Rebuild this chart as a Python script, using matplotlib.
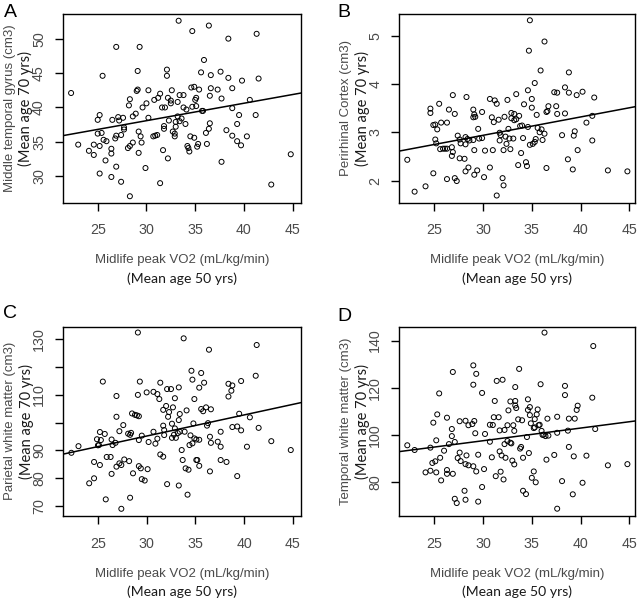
import matplotlib
matplotlib.use("Agg")
import matplotlib.pyplot as plt
import numpy as np

# ---------------- data ----------------
a_x = [22.27,23.0,24.1,24.6,24.6,25.0,25.0,25.2,25.2,25.2,25.4,25.5,25.6,25.8,25.9,26.4,26.4,26.4,26.5,26.8,
       26.9,26.9,26.9,27.1,27.2,27.4,27.4,27.6,27.7,27.7,28.1,28.2,28.3,28.3,28.3,28.6,28.6,28.9,29.0,29.1,
       29.1,29.2,29.2,29.3,29.4,29.5,29.6,29.9,30.0,30.2,30.2,30.7,30.8,30.9,31.1,31.2,31.4,31.4,31.6,31.7,
       31.8,31.8,31.9,32.1,32.1,32.2,32.2,32.3,32.5,32.5,32.6,32.7,32.9,32.9,33.0,33.0,33.2,33.2,33.3,33.4,
       33.4,33.6,33.8,33.8,34.0,34.1,34.2,34.3,34.4,34.5,34.6,34.7,34.7,34.9,34.9,35.0,35.1,35.1,35.2,35.3,
       35.4,35.6,35.7,35.8,35.9,36.1,36.2,36.4,36.4,36.5,36.5,36.6,36.6,37.3,37.6,37.7,37.7,38.2,38.4,38.4,
       38.8,38.8,38.8,39.3,39.3,39.5,39.7,39.8,40.3,40.6,41.2,41.3,41.5,42.8,44.8]
a_y = [42.1,34.6,33.7,34.6,33.1,36.2,38.2,38.9,30.4,34.4,36.3,44.6,35.3,32.3,35.1,29.9,33.3,34.0,38.2,35.5,
       31.4,48.8,35.9,38.6,38.1,29.2,36.0,38.5,36.8,37.1,34.1,40.3,34.4,41.2,27.1,34.9,38.7,39.1,42.4,42.6,
       45.3,36.5,33.4,48.8,35.8,34.9,40.0,31.2,40.6,38.5,42.5,35.8,41.1,35.9,36.0,41.4,29.0,42.0,40.0,33.8,
       37.3,36.9,40.0,45.5,44.6,32.6,41.4,38.1,40.6,41.0,42.5,36.5,36.2,35.8,37.2,37.9,38.7,40.8,52.6,41.8,
       38.0,38.4,41.8,40.0,37.6,39.7,34.4,34.1,33.6,35.8,42.9,40.1,51.1,43.0,35.6,41.1,41.4,40.2,34.3,34.7,
       42.6,45.1,39.5,39.5,46.9,36.3,34.7,51.9,36.9,37.7,41.7,42.8,44.7,42.6,45.2,32.1,41.3,36.7,50.0,44.3,
       35.9,42.8,39.9,37.6,35.1,38.9,34.5,43.9,35.8,41.1,38.9,50.7,44.2,28.8,33.2]

b_x = [22.23,22.98,24.1,24.6,24.6,24.9,24.9,25.1,25.1,25.2,25.3,25.5,25.6,25.7,25.9,26.1,26.3,26.3,26.3,26.5,
       26.8,26.8,26.9,26.9,27.1,27.1,27.3,27.4,27.6,27.6,27.7,28.1,28.2,28.2,28.2,28.3,28.4,28.5,28.6,29.0,
       29.0,29.0,29.1,29.1,29.2,29.1,29.4,29.5,29.6,29.9,29.9,30.1,30.2,30.7,30.7,30.9,31.0,31.1,31.2,31.4,
       31.4,31.6,31.7,31.7,31.8,32.0,32.1,32.1,32.2,32.3,32.4,32.5,32.6,32.7,32.8,32.9,32.9,33.1,33.2,33.2,
       33.4,33.4,33.6,33.7,33.8,33.9,34.0,34.1,34.2,34.4,34.5,34.6,34.6,34.7,34.8,34.8,35.0,35.0,35.1,35.3,
       35.3,35.4,35.5,35.6,35.8,35.9,36.0,36.1,36.3,36.3,36.5,36.5,36.6,36.7,37.3,37.5,37.6,37.6,38.1,38.4,
       38.4,38.7,38.8,38.8,39.2,39.3,39.4,39.6,39.7,40.2,40.6,41.2,41.2,41.4,42.8,44.8]
b_y = [2.43,1.77,1.88,3.49,3.40,2.15,3.15,3.16,2.85,2.77,3.06,3.59,2.65,3.20,2.66,2.66,3.20,2.66,2.03,3.47,
       2.51,2.69,3.77,2.59,3.38,2.05,1.99,2.93,2.85,2.46,2.77,2.45,2.90,2.75,2.19,3.73,2.86,2.27,2.83,2.84,
       3.47,3.31,3.37,2.63,3.32,2.12,2.21,3.07,2.87,2.88,3.42,2.07,2.62,3.69,2.27,3.31,2.63,3.21,3.66,1.69,
       3.59,3.26,2.83,2.99,2.94,2.05,1.90,2.63,3.32,2.91,2.76,3.67,3.07,2.87,2.65,3.40,3.29,2.87,3.25,3.38,
       3.79,3.27,2.32,3.34,3.13,2.57,3.14,2.88,3.58,2.38,2.30,3.87,3.11,4.69,2.74,5.32,3.69,3.51,2.76,2.80,
       4.02,2.86,3.36,3.09,3.00,4.28,3.06,2.84,2.97,4.88,3.42,2.26,3.44,3.54,3.83,3.54,3.82,3.38,2.94,3.93,
       3.39,2.44,4.24,3.82,2.23,2.93,3.02,3.77,2.63,3.84,3.20,2.83,3.34,3.72,2.21,2.19]

c_x = [22.27,23.0,24.1,24.6,24.6,24.9,25.0,25.1,25.2,25.2,25.3,25.5,25.7,25.8,25.9,26.3,26.4,26.4,26.5,26.8,
       26.9,26.9,26.9,27.2,27.2,27.4,27.4,27.6,27.7,28.1,28.2,28.3,28.3,28.4,28.5,28.6,28.8,29.0,29.1,29.1,
       29.2,29.2,29.2,29.3,29.4,29.5,29.5,29.8,30.0,30.1,30.2,30.7,30.7,30.9,31.1,31.1,31.3,31.4,31.4,31.7,
       31.7,31.7,31.8,31.8,32.0,32.1,32.1,32.2,32.3,32.5,32.6,32.6,32.7,32.8,32.9,32.9,33.0,33.2,33.3,33.3,
       33.4,33.3,33.4,33.6,33.8,33.7,33.9,34.0,34.1,34.2,34.3,34.4,34.5,34.6,34.7,34.7,34.8,34.9,34.9,35.1,
       35.1,35.2,35.4,35.4,35.4,35.6,35.6,35.8,35.9,36.1,36.2,36.3,36.4,36.5,36.5,36.6,36.6,37.3,37.6,37.6,
       37.6,38.2,38.4,38.4,38.7,38.8,38.8,39.3,39.3,39.5,39.7,39.7,40.3,40.6,41.2,41.3,41.5,42.8,44.8]
c_y = [89.1,91.5,78.1,79.9,85.8,94.0,91.8,91.9,96.6,84.7,93.7,114.8,95.9,72.3,87.6,87.6,81.5,93.9,91.9,92.7,
       102.1,109.6,84.1,85.3,96.9,84.7,68.9,99.1,86.7,96.0,86.1,95.6,72.9,96.3,103.3,81.7,102.8,102.6,110.0,132.5,
       102.3,84.3,93.7,114.8,83.5,95.3,79.6,79.1,110.9,83.2,93.0,96.7,111.1,92.4,94.2,110.3,108.5,88.5,114.4,104.6,
       98.9,87.7,95.5,97.3,106.0,112.1,77.8,102.1,103.8,112.1,99.6,94.5,105.5,95.6,108.8,97.9,94.5,96.2,77.3,112.7,
       103.1,100.9,96.7,90.1,130.4,86.5,96.7,83.5,104.4,74.0,83.0,91.9,95.4,118.7,115.5,92.5,99.7,108.5,94.3,86.5,
       93.9,86.5,93.8,112.6,84.4,117.9,104.9,104.1,114.4,105.5,98.9,99.8,126.3,94.9,82.4,104.8,92.7,93.1,96.7,91.3,
       86.5,85.8,109.4,114.0,111.5,113.4,98.4,80.7,98.6,103.2,115.0,97.2,91.3,101.9,116.9,128.0,98.1,93.3,90.1]

d_x = [22.23,22.98,24.1,24.6,24.6,24.8,24.9,25.1,25.2,25.2,25.3,25.5,25.6,25.7,26.0,26.3,26.3,26.3,26.5,26.8,
       26.8,26.9,26.9,27.1,27.1,27.3,27.4,27.6,27.6,27.7,28.1,28.2,28.2,28.3,28.2,28.5,28.5,28.9,29.0,29.0,
       29.0,29.1,29.2,29.3,29.3,29.5,29.5,29.9,29.9,30.1,30.2,30.7,30.7,30.9,31.0,31.1,31.2,31.3,31.4,31.6,
       31.7,31.7,31.8,31.9,32.0,32.1,32.2,32.2,32.3,32.5,32.5,32.6,32.8,32.8,32.9,33.0,33.1,33.2,33.2,33.3,
       33.3,33.3,33.4,33.6,33.7,33.8,33.9,34.0,34.1,34.1,34.4,34.5,34.6,34.6,34.7,34.8,34.8,34.9,35.0,35.2,
       35.2,35.3,35.3,35.4,35.5,35.6,35.7,35.8,35.9,36.0,36.1,36.2,36.3,36.4,36.5,36.6,36.7,37.3,37.6,37.6,
       37.6,38.1,38.4,38.4,38.7,38.8,38.8,39.2,39.3,39.4,39.6,39.7,40.2,40.6,41.2,41.3,41.5,42.8,44.8]
d_y = [95.6,93.6,84.1,84.8,94.6,88.1,105.2,88.8,84.1,97.7,108.7,117.6,90.3,80.7,93.3,85.1,83.5,107.3,96.1,99.5,
       102.5,83.5,126.7,72.9,97.0,71.1,90.2,92.5,105.8,88.9,76.3,87.6,72.5,91.3,106.0,104.1,87.1,104.6,129.5,86.7,
       121.3,105.9,100.7,125.9,84.5,71.7,91.6,117.8,77.9,85.5,100.4,104.3,97.1,90.5,104.2,107.5,114.4,82.5,122.9,107.5,
       93.0,101.9,84.4,91.3,123.4,81.1,102.1,96.1,90.3,104.1,97.4,110.4,96.7,114.2,96.4,89.1,104.1,87.5,101.7,120.3,
       112.5,114.4,111.4,106.6,128.0,94.2,94.9,106.2,90.3,76.3,74.9,99.1,115.1,110.6,92.3,108.4,111.8,104.9,81.8,102.9,
       84.5,103.2,106.7,79.9,108.7,110.8,104.1,104.3,121.5,101.7,100.0,100.1,143.4,99.5,89.5,106.9,99.7,91.5,107.7,68.7,
       100.9,80.4,120.8,116.9,101.8,106.9,94.9,74.8,90.9,106.9,110.6,112.4,79.7,91.2,115.8,137.7,102.5,87.1,87.6]

# fitted regression lines (intercept, slope)
fit_a = (30.47, 0.2536)
fit_b = (1.797, 0.0380)
fit_c = (72.32, 0.761)
fit_d = (81.42, 0.537)

panel_letters = ["A", "B", "C", "D"]
y_titles = ["Middle temporal gyrus (cm3)", "Perirhinal Cortex (cm3)",
            "Parietal white matter (cm3)", "Temporal white matter (cm3)"]
y_sub = "(Mean age 70 yrs)"
x_title = "Midlife peak VO2 (mL/kg/min)"
x_sub = "(Mean age 50 yrs)"
x_ticks = [25, 30, 35, 40, 45]
y_ticks = [[30, 35, 40, 45, 50], [2, 3, 4, 5], [70, 80, 90, 100, 110, 120, 130], [80, 100, 120, 140]]
y_ticklabels = [["30", "35", "40", "45", "50"], ["2", "3", "4", "5"],
                ["70", "80", "90", "", "110", "", "130"], ["80", "100", "120", "140"]]
x_lims = [(21.41, 45.85), (21.38, 45.58), (21.41, 45.85), (21.38, 45.58)]
y_lims = [(26.19, 53.58), (1.545, 5.45), (66.3, 134.6), (65.6, 145.9)]

# ---------------- layout ----------------
W, H = 640, 599
fig = plt.figure(figsize=(W / 100, H / 100), dpi=100)
# (left, right, top, bottom) in pixels
boxes = [(62.7, 301, 14, 202.5), (399, 635, 14, 202.5),
         (63, 301, 326.7, 516), (399, 635, 326.7, 516)]
xs = [a_x, b_x, c_x, d_x]
ys = [a_y, b_y, c_y, d_y]
fits = [fit_a, fit_b, fit_c, fit_d]
letter_pos = [(4, 4), (337, 4), (3, 305), (337, 308)]

grey = "#4a4a4a"
dark = "#1a1a1a"

for i in range(4):
    l, r, t, b = boxes[i]
    ax = fig.add_axes([l / W, 1 - b / H, (r - l) / W, (b - t) / H])
    ax.scatter(xs[i], ys[i], s=13, facecolors="none", edgecolors="black", linewidths=0.7, zorder=3)
    xl = np.array(x_lims[i])
    ax.plot(xl, fits[i][0] + fits[i][1] * xl, color="black", lw=1.1, zorder=2)
    ax.set_xlim(*x_lims[i])
    ax.set_ylim(*y_lims[i])
    ax.set_xticks(x_ticks)
    ax.set_xticklabels([str(v) for v in x_ticks])
    ax.set_yticks(y_ticks[i])
    ax.set_yticklabels(y_ticklabels[i])
    for s in ax.spines.values():
        s.set_linewidth(1.0)
    ax.tick_params(axis="both", direction="out", length=6, width=1.0, colors="black",
                   labelcolor=grey, labelsize=10.3, labelfontfamily="Liberation Sans")
    ax.tick_params(axis="x", pad=9)
    ax.tick_params(axis="y", pad=6)
    for lab in ax.get_yticklabels():
        lab.set_rotation(90)
        lab.set_va("center")

    cx = (l + r) / 2
    cy = (t + b) / 2
    # y axis labels
    fig.text((l - 53) / W, 1 - cy / H, y_titles[i], rotation=90, ha="center", va="center",
             fontsize=9.5, color=grey, family="Liberation Sans")
    fig.text((l - 37) / W, 1 - cy / H, y_sub, rotation=90, ha="center", va="center",
             fontsize=10.5, color=dark, family="Lato")
    # x axis labels
    fig.text(cx / W, 1 - (b + 58) / H, x_title, ha="center", va="center",
             fontsize=9.5, color=grey, family="Liberation Sans")
    fig.text(cx / W, 1 - (b + 76) / H, x_sub, ha="center", va="center",
             fontsize=10.1, color=dark, family="Lato")
    # panel letter
    fig.text(letter_pos[i][0] / W, 1 - letter_pos[i][1] / H, panel_letters[i], ha="left", va="top",
             fontsize=14, color="black", family="Liberation Sans")

fig.savefig("out.png", dpi=100)
